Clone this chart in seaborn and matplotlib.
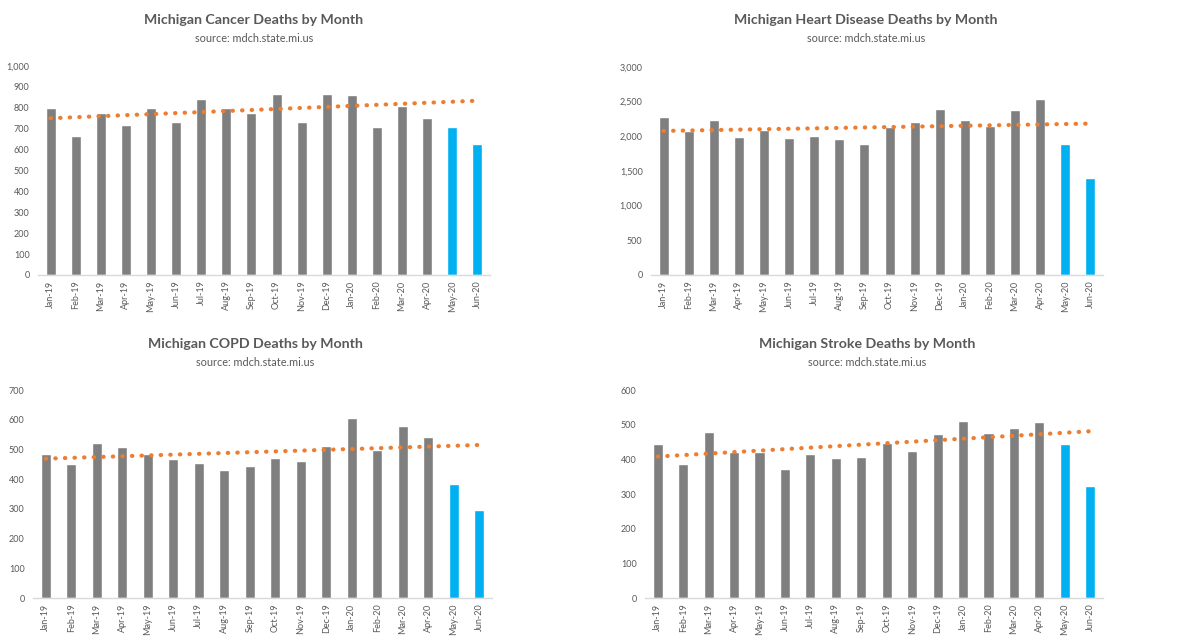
import numpy as np
import pandas as pd
import matplotlib
matplotlib.use("Agg")
import matplotlib.pyplot as plt
import seaborn as sns
from matplotlib.ticker import FuncFormatter, MultipleLocator, FixedLocator

months = ["Jan-19", "Feb-19", "Mar-19", "Apr-19", "May-19", "Jun-19", "Jul-19", "Aug-19",
          "Sep-19", "Oct-19", "Nov-19", "Dec-19", "Jan-20", "Feb-20", "Mar-20", "Apr-20",
          "May-20", "Jun-20"]

cancer = [798, 666, 776, 718, 798, 731, 840, 798, 773, 864, 731, 864, 859, 710, 811, 749, 710, 629]
heart = [2280, 2074, 2232, 1997, 2088, 1982, 2006, 1958, 1891, 2131, 2208, 2395, 2232, 2150, 2381, 2534, 1891, 1392]
copd = [485, 450, 521, 508, 485, 468, 456, 430, 445, 470, 461, 512, 605, 497, 579, 541, 385, 295]
stroke = [443, 386, 478, 421, 421, 373, 414, 403, 406, 446, 423, 473, 511, 475, 490, 508, 445, 323]

# linear trendline end values (first month, last month)
cancer_trend = [750, 834]
heart_trend = [2078, 2184]
copd_trend = [469, 515]
stroke_trend = [408, 481]

period = ["base"] * 16 + ["recent"] * 2

titles = ["Michigan Cancer Deaths by Month", "Michigan Heart Disease Deaths by Month",
          "Michigan COPD Deaths by Month", "Michigan Stroke Deaths by Month"]
subtitle = "source: mdch.state.mi.us"

sns.set_theme(style="white")
plt.rcParams["font.family"] = ["Lato", "DejaVu Sans"]

GRAY = "#7f7f7f"
BLUE = "#00b0f0"
ORANGE = "#ed7d31"
TXT = "#595959"
AXC = "#d9d9d9"

fig = plt.figure(figsize=(12, 6.4), dpi=100)
W, H = 1200, 640

panels = [
    (cancer, cancer_trend, (38, 66, 490, 275), 1000, 100, 254, 20),
    (heart, heart_trend, (651, 67, 1103, 275), 3000, 500, 866, 20),
    (copd, copd_trend, (33, 390, 492, 598), 700, 100, 255, 344),
    (stroke, stroke_trend, (645, 390, 1103, 598), 600, 100, 867, 344),
]

for (vals, trend, (x0, y0, x1, y1), ymax, step, tx, ty), title in zip(panels, titles):
    ax = fig.add_axes([x0 / W, 1 - y1 / H, (x1 - x0) / W, (y1 - y0) / H])
    df = pd.DataFrame({"month": months, "value": vals, "period": period})
    sns.barplot(data=df, x="month", y="value", hue="period",
                palette={"base": GRAY, "recent": BLUE}, dodge=False,
                width=0.4, legend=False, ax=ax, saturation=1)
    tdf = pd.DataFrame({"x": [0, len(months) - 1], "y": trend})
    sns.lineplot(data=tdf, x="x", y="y", ax=ax, color=ORANGE,
                 linestyle=(0, (0.1, 2.2)), linewidth=3, dash_capstyle="round",
                 zorder=5)
    ax.set_xlim(-0.5, len(months) - 0.5)
    ax.set_ylim(0, ymax)
    ax.yaxis.set_major_locator(MultipleLocator(step))
    ax.yaxis.set_major_formatter(FuncFormatter(lambda v, p: f"{int(v):,}"))
    ax.set_xlabel("")
    ax.set_ylabel("")
    for s in ["top", "right", "left"]:
        ax.spines[s].set_visible(False)
    ax.spines["bottom"].set_color(AXC)
    ax.spines["bottom"].set_linewidth(1)
    ax.tick_params(axis="y", length=0, labelsize=6.5, labelcolor=TXT, pad=6)
    ax.xaxis.set_major_locator(FixedLocator(np.arange(len(months))))
    ax.set_xticklabels(months)
    ax.tick_params(axis="x", which="major", length=0, labelsize=6.5, labelcolor=TXT,
                   rotation=90, pad=4)
    ax.xaxis.set_minor_locator(FixedLocator(np.arange(-0.5, len(months), 1.0)))
    ax.tick_params(axis="x", which="minor", length=4, color=AXC, width=1)
    fig.text(tx / W, 1 - ty / H, title, ha="center", va="center",
             fontsize=10.2, fontweight="bold", color=TXT)
    fig.text(tx / W, 1 - (ty + 19) / H, subtitle, ha="center", va="center",
             fontsize=7.8, color=TXT)

fig.savefig("out.png", dpi=100, facecolor="white")
